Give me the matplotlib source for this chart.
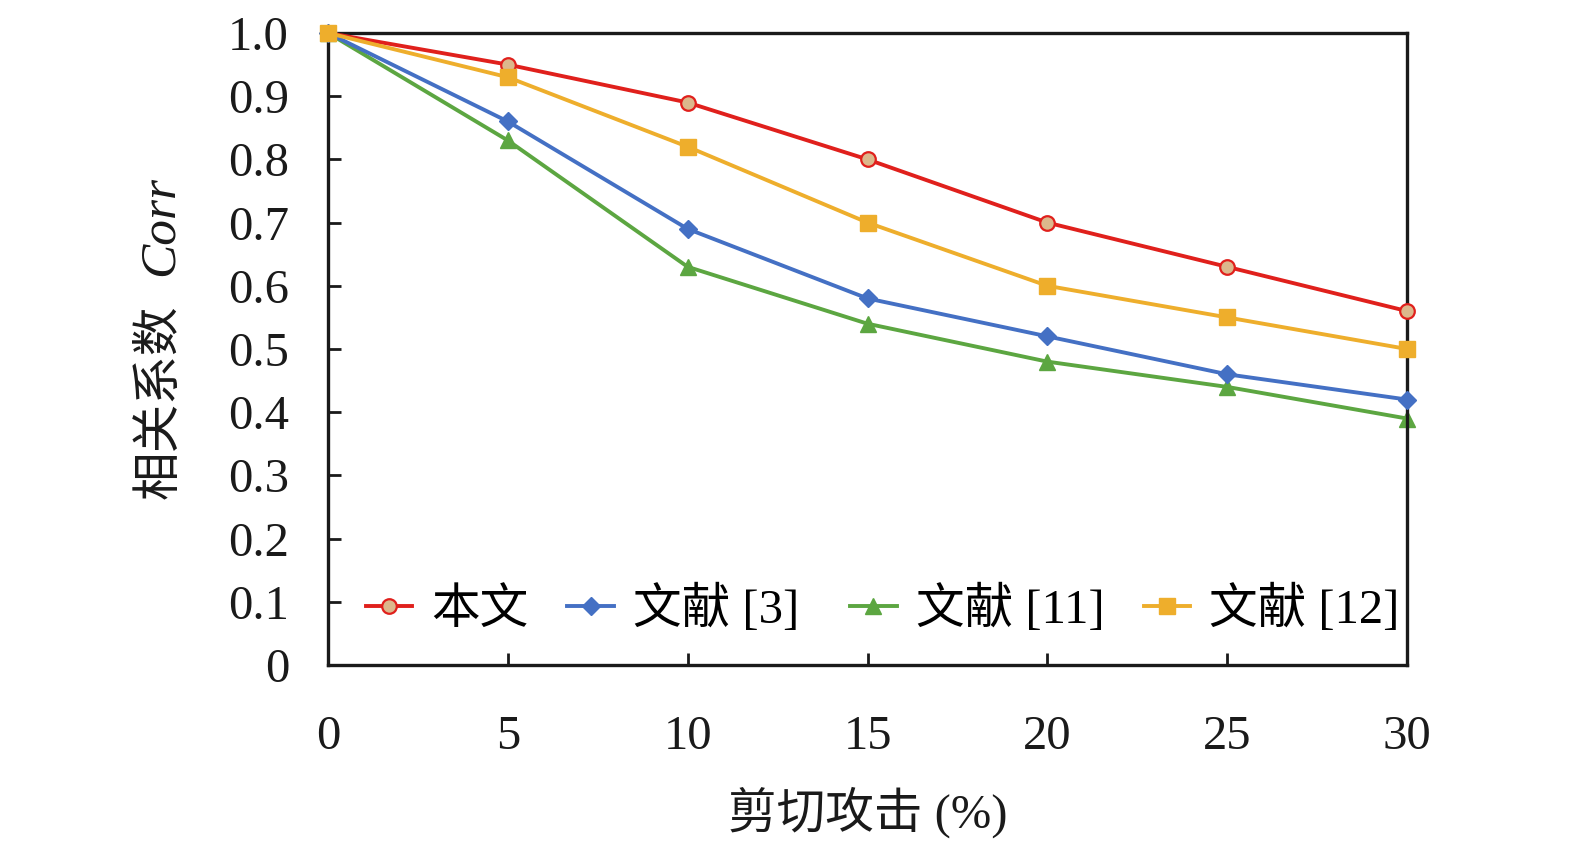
import matplotlib
matplotlib.use("Agg")
import matplotlib.pyplot as plt

plt.rcParams['font.family'] = ['Liberation Serif', 'Noto Sans CJK SC']

# ── Data ──────────────────────────────────────────────────────────────────────
shear = [0, 5, 10, 15, 20, 25, 30]
ours = [1.0, 0.95, 0.89, 0.80, 0.70, 0.63, 0.56]
ref3 = [1.0, 0.86, 0.69, 0.58, 0.52, 0.46, 0.42]
ref11 = [1.0, 0.83, 0.63, 0.54, 0.48, 0.44, 0.39]
ref12 = [1.0, 0.93, 0.82, 0.70, 0.60, 0.55, 0.50]
labels = ["本文", "文献 [3] ", "文献 [11]", "文献 [12]"]
yticks = [0, 0.1, 0.2, 0.3, 0.4, 0.5, 0.6, 0.7, 0.8, 0.9, 1.0]
ytick_labels = ["0", "0.1", "0.2", "0.3", "0.4", "0.5", "0.6", "0.7", "0.8", "0.9", "1.0"]

# ── Plot ──────────────────────────────────────────────────────────────────────
W, H = 1575, 852
fig = plt.figure(figsize=(W / 100, H / 100), dpi=100)
ax = fig.add_axes([328 / W, 1 - 665 / H, (1407 - 328) / W, (665 - 33) / H])

lw = 2.8
ax.plot(shear, ours, '-o', color='#e0201c', lw=lw, ms=10.5, mfc='#dcb88c',
        mec='#e0201c', mew=1.6, label=labels[0], clip_on=False, zorder=4)
ax.plot(shear, ref3, '-D', color='#4470c4', lw=lw, ms=9, label=labels[1],
        clip_on=False, zorder=3)
ax.plot(shear, ref11, '-^', color='#5ca641', lw=lw, ms=11.5, label=labels[2],
        clip_on=False, zorder=2)
ax.plot(shear, ref12, '-s', color='#eeae2c', lw=lw, ms=11, label=labels[3],
        clip_on=False, zorder=5)

ax.set_xlim(0, 30)
ax.set_ylim(0, 1.0)
ax.set_xticks(shear)
ax.set_yticks(yticks)
ax.set_yticklabels(ytick_labels)
ax.tick_params(direction='in', length=9, width=2, labelsize=35, colors='#1a1a1a')
ax.tick_params(axis='x', pad=36)
ax.tick_params(axis='y', pad=28)
for s in ax.spines.values():
    s.set_linewidth(2.4)
    s.set_color('#1a1a1a')

ax.set_xlabel("剪切攻击 (%)", fontsize=35, labelpad=20, color='#1a1a1a')

# y label: Chinese part upright, "Corr" in italic
fig.text(160 / W, 1 - 402 / H, "相关系数", rotation=90, fontsize=35,
         ha='center', va='center', color='#1a1a1a')
fig.text(160 / W, 1 - 226 / H, "Corr", rotation=90, fontsize=37,
         style='italic', ha='center', va='center', color='#1a1a1a')

ax.legend(loc='lower center', ncol=4, frameon=False, fontsize=35,
          handlelength=0.95, handletextpad=0.4, columnspacing=0.8,
          bbox_to_anchor=(0.514, 0.0), borderaxespad=0.25)

plt.savefig("out.png", dpi=100)
